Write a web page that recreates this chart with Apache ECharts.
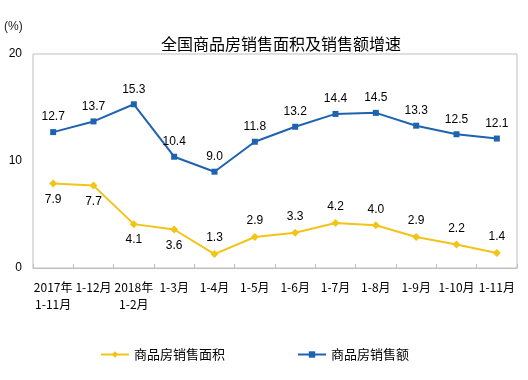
<!DOCTYPE html>
<html><head><meta charset="utf-8">
<script src="https://cdn.jsdelivr.net/npm/echarts@6/dist/echarts.min.js"></script>
<style>html,body{margin:0;padding:0;background:#fff}#c{width:528px;height:380px}</style>
</head><body><div id="c"></div>
<script>
var categories = ['2017年\n1-11月','1-12月','2018年\n1-2月','1-3月','1-4月','1-5月','1-6月','1-7月','1-8月','1-9月','1-10月','1-11月'];
var areaGrowth = [7.9, 7.7, 4.1, 3.6, 1.3, 2.9, 3.3, 4.2, 4.0, 2.9, 2.2, 1.4];
var salesGrowth = [12.7, 13.7, 15.3, 10.4, 9.0, 11.8, 13.2, 14.4, 14.5, 13.3, 12.5, 12.1];
var yTicks = [0, 10, 20];
var titleText = '全国商品房销售面积及销售额增速';
var unitText = '(%)';
var seriesNames = ['商品房销售面积', '商品房销售额'];

var yellow = '#F2C417', blue = '#1E63B0';
var numFont = 'Liberation Sans, Arial, sans-serif';
var cjkFont = 'SimSun, "Noto Sans CJK SC", sans-serif';

var areaData = areaGrowth.map(function(v, i){
  return {value: v, label: {position: i < 4 ? 'bottom' : 'top'}};
});

var chart = echarts.init(document.getElementById('c'), null, {renderer: 'canvas'});
chart.setOption({
  animation: false,
  backgroundColor: '#fff',
  title: {text: titleText, left: 276, textAlign: 'center', top: 31,
    textStyle: {fontSize: 16, fontWeight: 'normal', color: '#000', fontFamily: cjkFont}},
  graphic: [{type: 'text', left: 4, top: 21, style: {text: unitText, fontSize: 12, fill: '#222', fontFamily: numFont}}],
  legend: [
    {data: [seriesNames[0]], left: 95, top: 343, itemWidth: 28, itemHeight: 8,
     textStyle: {fontSize: 13, color: '#000', fontFamily: cjkFont}},
    {data: [seriesNames[1]], left: 292, top: 343, itemWidth: 28, itemHeight: 8,
     textStyle: {fontSize: 13, color: '#000', fontFamily: cjkFont}}
  ],
  grid: {left: 33, right: 11, top: 54, bottom: 112, show: true, borderColor: '#BFBFBF', borderWidth: 1},
  xAxis: {type: 'category', data: categories, boundaryGap: true,
    axisLine: {show: true, lineStyle: {color: '#BFBFBF'}},
    axisTick: {show: true, inside: true, length: 4, lineStyle: {color: '#BFBFBF'}},
    axisLabel: {interval: 0, margin: 11, fontSize: 12, color: '#000', fontFamily: cjkFont, lineHeight: 17, align: 'center'}},
  yAxis: {type: 'value', min: yTicks[0], max: yTicks[yTicks.length-1], interval: 10,
    splitLine: {show: false}, axisLine: {show: false}, axisTick: {show: false},
    axisLabel: {margin: 11, fontSize: 12, color: '#000', fontFamily: numFont}},
  series: [
    {name: seriesNames[0], type: 'line', data: areaData, color: yellow,
     symbol: 'diamond', symbolSize: 8, lineStyle: {width: 2, color: yellow},
     itemStyle: {color: yellow},
     label: {show: true, distance: 6, fontSize: 12, color: '#000', fontFamily: numFont,
       formatter: function(p){ return p.value.toFixed(1); }}},
    {name: seriesNames[1], type: 'line', data: salesGrowth, color: blue,
     symbol: 'rect', symbolSize: 6, lineStyle: {width: 2, color: blue},
     itemStyle: {color: blue},
     label: {show: true, position: 'top', distance: 6, fontSize: 12, color: '#000', fontFamily: numFont,
       formatter: function(p){ return p.value.toFixed(1); }}}
  ]
});
</script></body></html>
